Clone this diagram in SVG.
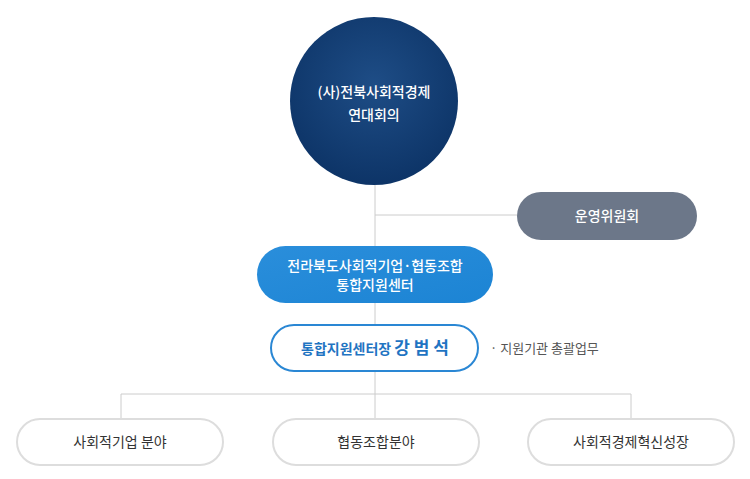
<svg xmlns="http://www.w3.org/2000/svg" width="750" height="479" viewBox="0 0 750 479">
<defs>
<radialGradient id="g1" cx="0.5" cy="0.4" r="0.6"><stop offset="0" stop-color="#1e4d86"/><stop offset="1" stop-color="#0d3467"/></radialGradient>
<linearGradient id="g2" x1="0" y1="0" x2="1" y2="1"><stop offset="0" stop-color="#2a8edb"/><stop offset="1" stop-color="#1c84d4"/></linearGradient>
</defs>
<style>
text{font-family:"Noto Sans CJK KR","Noto Sans",sans-serif;text-anchor:middle}
.w{fill:#fff;font-size:14px;font-weight:500}
.b{fill:#fff;stroke:#ddd;stroke-width:2}
.bt{fill:#333;font-size:14px}
line{stroke:#cccccc;stroke-width:1}
</style>
<g id="connectors">
<line x1="375" y1="185" x2="375" y2="418"/>
<line x1="375" y1="215" x2="517" y2="215"/>
<line x1="121" y1="394" x2="631" y2="394"/>
<line x1="121" y1="394" x2="121" y2="418"/>
<line x1="631" y1="394" x2="631" y2="418"/>
</g>
<g id="n1"><circle cx="374" cy="101" r="84" fill="url(#g1)"/>
<text class="w" x="374" y="97" font-size="16">(사)전북사회적경제</text><text class="w" x="374" y="120" font-size="16">연대회의</text></g>
<g id="n2"><rect x="517" y="192" width="180" height="48" rx="24" fill="#6c7789"/><text class="w" x="607" y="221">운영위원회</text></g>
<g id="n3"><rect x="257" y="246" width="236" height="57" rx="28.5" fill="url(#g2)"/><text class="w" x="375" y="271">전라북도사회적기업·협동조합</text><text class="w" x="375" y="290">통합지원센터</text></g>
<g id="n4"><rect x="271" y="325" width="207" height="46" rx="23" fill="#fff" stroke="#2a87d4" stroke-width="2"/><text x="375" y="354" fill="#1f74c2" font-size="14" font-weight="700">통합지원센터장 <tspan font-size="17">강 범 석</tspan></text></g>
<text x="490" y="353" style="text-anchor:start" fill="#555" font-size="13">· 지원기관 총괄업무</text>
<g id="n5"><rect class="b" x="17" y="419" width="206" height="46" rx="23"/><text class="bt" x="120" y="447">사회적기업 분야</text></g>
<g id="n6"><rect class="b" x="273" y="419" width="206" height="46" rx="23"/><text class="bt" x="376" y="447">협동조합분야</text></g>
<g id="n7"><rect class="b" x="528" y="419" width="206" height="46" rx="23"/><text class="bt" x="631" y="447">사회적경제혁신성장</text></g>
</svg>
